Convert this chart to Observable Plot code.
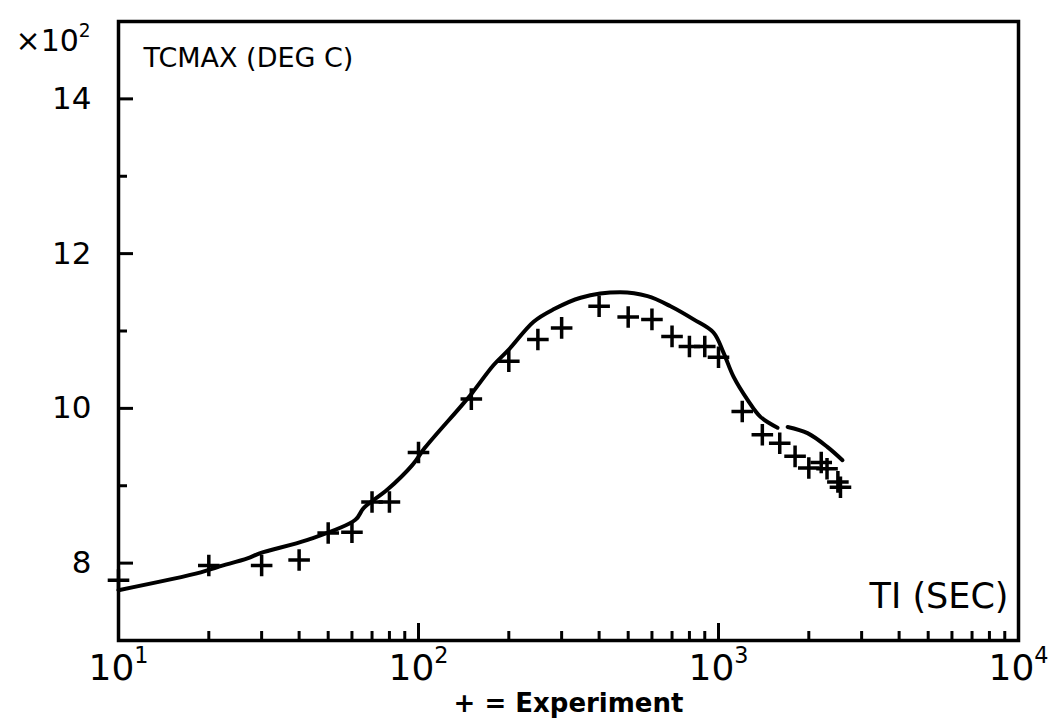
<!DOCTYPE html>
<html><head><meta charset="utf-8">
<script src="https://cdn.jsdelivr.net/npm/d3@7"></script>
<script src="https://cdn.jsdelivr.net/npm/@observablehq/plot@0.6"></script>
<style>body{margin:0;background:#fff} svg{display:block}</style>
</head><body><div id="chart"></div>
<script>
// Experiment (+ markers): time in s, temperature in deg C
const expTime = [10,20,30,40,50,60,70,80,100,150,200,250,300,400,500,600,700,800,900,1000,1200,1400,1600,1800,2000,2200,2300,2500,2550];
const expTemp = [778,797,797,804,839,840,879,879,943,1012,1061,1089,1104,1132,1118,1115,1093,1080,1080,1066,996,966,955,938,923,930,922,905,898];
// Calculation (solid curve), two drawn pieces
const calcTime = [10,18.8,21.4,26.9,29.7,42.7,61.6,65.6,78.8,95.5,105,138,151,178,200,242,282,347,471,580,692,826,962,1039,1122,1250,1380,1573,1700,1980,2310,2590];
const calcTemp = [765,788,795,806,813,830,856,871,895,927,949,1002,1020,1056,1076,1112,1128,1143,1150,1145,1132,1115,1098,1072,1041,1011,989,975,976,968,950,933];
const calcPiece = [0,0,0,0,0,0,0,0,0,0,0,0,0,0,0,0,0,0,0,0,0,0,0,0,0,0,0,0,1,1,1,1];
// Axis ticks and labels
const xMajor = [10,100,1000,10000];
const xTickLabels = ["10¹","10²","10³","10⁴"];
const xMinor = [20,30,40,50,60,70,80,90,200,300,400,500,600,700,800,900,2000,3000,4000,5000,6000,7000,8000,9000];
const yMajor = [800,1000,1200,1400];
const yMinor = [900,1100,1300];
const yTickLabels = ["8","10","12","14"];
const yUnit = "×10²";
const yTitle = "TCMAX (DEG C)";
const xTitle = "TI (SEC)";
const legendText = "+ = Experiment";

const W = 1053, H = 728;
const mL = 118, mR = 35, mT = 21, mB = 88;
const pw = W - mL - mR, ph = H - mT - mB;

const expData = expTime.map((t, i) => ({t, v: expTemp[i]}));
const calcData = calcTime.map((t, i) => ({t, v: calcTemp[i], s: calcPiece[i]}));

const plot = Plot.plot({
  width: W, height: H,
  marginLeft: mL, marginRight: mR, marginTop: mT, marginBottom: mB,
  style: {fontFamily: "DejaVu Sans, sans-serif", color: "#000", background: "#fff", overflow: "visible"},
  x: {type: "log", domain: [10, 10000], label: null},
  y: {domain: [700, 1500], label: null},
  marks: [
    Plot.axisY({ticks: yMajor, tickFormat: d => yTickLabels[yMajor.indexOf(d)], tickSize: 0, tickPadding: 27, fontSize: 31, label: null}),
    Plot.axisX({ticks: xMajor, tickFormat: d => xTickLabels[xMajor.indexOf(d)], tickSize: 0, tickPadding: 14, fontSize: 36, label: null}),
    Plot.tickY(yMajor, {y: d => d, insetRight: pw - 15, stroke: "#000", strokeWidth: 3}),
    Plot.tickY(yMinor, {y: d => d, insetRight: pw - 9, stroke: "#000", strokeWidth: 3}),
    Plot.tickX(xMajor, {x: d => d, insetTop: ph - 17, stroke: "#000", strokeWidth: 3}),
    Plot.tickX(xMinor, {x: d => d, insetTop: ph - 9, stroke: "#000", strokeWidth: 3}),
    Plot.line(calcData, {x: "t", y: "v", z: "s", stroke: "#000", strokeWidth: 4, curve: "catmull-rom", strokeLinecap: "round"}),
    Plot.dot(expData, {x: "t", y: "v", symbol: "plus", r: 7, stroke: "#000", strokeWidth: 3.5}),
    Plot.frame({stroke: "#000", strokeWidth: 3.5}),
    Plot.text([yTitle], {text: d => d, frameAnchor: "top-left", dx: 25, dy: 26, textAnchor: "start", fontSize: 27, fill: "#000"}),
    Plot.text([xTitle], {text: d => d, frameAnchor: "bottom-right", dx: -10, dy: -33, textAnchor: "end", fontSize: 35, fill: "#000"}),
    Plot.text([yUnit], {text: d => d, frameAnchor: "top-left", dx: -103, dy: 8, textAnchor: "start", fontSize: 30, fill: "#000"}),
    Plot.text([legendText], {text: d => d, frameAnchor: "bottom", dy: 71, fontSize: 26, fontWeight: "bold", fill: "#000"})
  ]
});
document.getElementById("chart").appendChild(plot);

// Render the superscript exponents as real superscript tspans (larger than Unicode superscripts)
const supMap = {"¹": "1", "²": "2", "³": "3", "⁴": "4"};
d3.select(plot).selectAll("text").each(function() {
  const el = d3.select(this);
  const tspans = el.selectAll("tspan");
  const target = tspans.empty() ? el : tspans;
  target.each(function() {
    const node = d3.select(this);
    const s = node.text();
    const m = s.match(/^(.*?)([¹²³⁴])$/);
    if (!m) return;
    node.text(null);
    node.append("tspan").text(m[1]);
    node.append("tspan").attr("font-size", "0.62em").attr("dy", "-0.75em").text(supMap[m[2]]);
  });
});
</script>
</body></html>
